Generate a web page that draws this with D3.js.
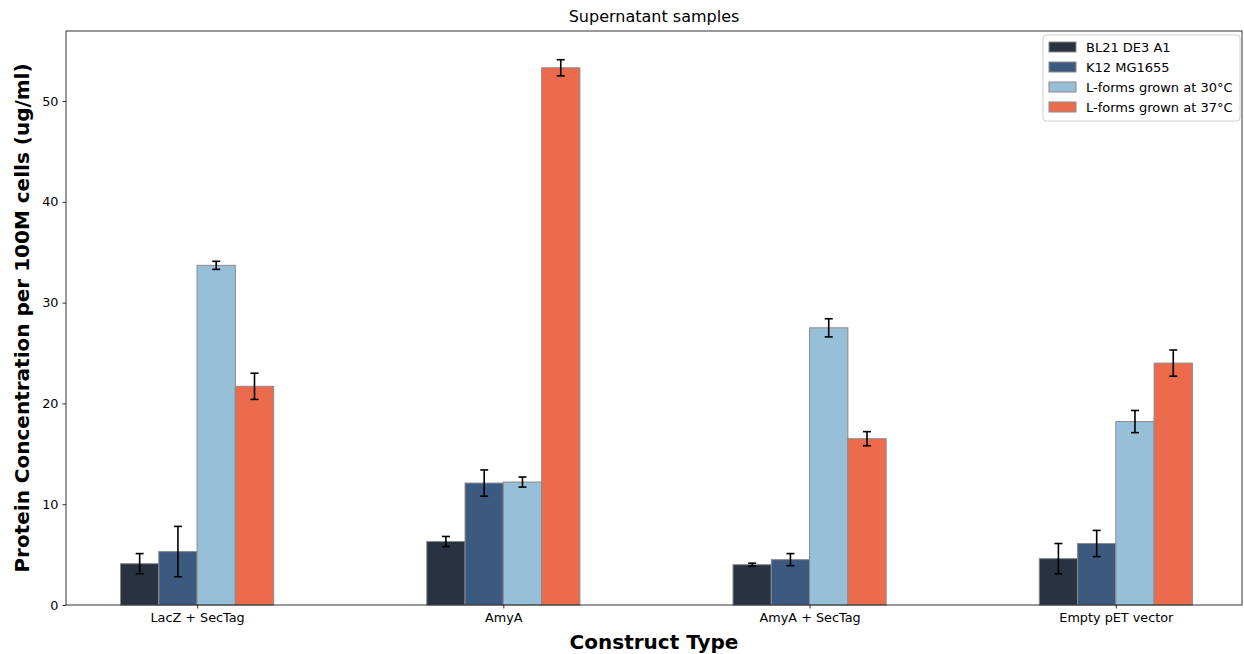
<!DOCTYPE html>
<html>
<head>
<meta charset="utf-8">
<script src="https://cdn.jsdelivr.net/npm/d3@7"></script>
<style>
  body { margin: 0; background: #fff; }
  svg { font-family: "DejaVu Sans", sans-serif; }
</style>
</head>
<body>
<div id="chart"></div>
<script>
// data
const categories = ["LacZ + SecTag", "AmyA", "AmyA + SecTag", "Empty pET vector"]
const series = ["BL21 DE3 A1", "K12 MG1655", "L-forms grown at 30°C", "L-forms grown at 37°C"]
const colors = ["#283241", "#3c5a80", "#98bfd8", "#ec6b4d"]
const bl21 = [4.1, 6.3, 4.0, 4.6]
const k12 = [5.3, 12.1, 4.5, 6.1]
const lf30 = [33.7, 12.2, 27.5, 18.2]
const lf37 = [21.7, 53.3, 16.5, 24.0]
const bl21Err = [1.0, 0.5, 0.15, 1.5]
const k12Err = [2.5, 1.3, 0.6, 1.3]
const lf30Err = [0.4, 0.5, 0.9, 1.1]
const lf37Err = [1.3, 0.8, 0.7, 1.3]
const yTicks = [0, 10, 20, 30, 40, 50]

const values = [bl21, k12, lf30, lf37]
const errors = [bl21Err, k12Err, lf30Err, lf37Err]

let width = 1244, height = 654
let margin = { left: 66, top: 31, right: 2, bottom: 49 }
let svg = d3.select("#chart").append("svg")
    .attr("width", width)
    .attr("height", height)

let x = d3.scaleLinear()
    .domain([-0.428, 3.412])
    .range([margin.left, width - margin.right])
let y = d3.scaleLinear()
    .domain([0, 56.95])
    .range([height - margin.bottom, margin.top])
let barW = 0.125

//柱子
let rows = []
series.forEach((s, j) => {
    categories.forEach((c, i) => {
        rows.push({ s: j, i: i, v: values[j][i], e: errors[j][i] })
    })
})
let bars = svg.append("g")
bars.selectAll("rect")
    .data(rows)
    .enter()
    .append("rect")
    .attr("x", d => x(d.i + (d.s - 2) * barW))
    .attr("width", d => x(barW) - x(0))
    .attr("y", d => y(d.v))
    .attr("height", d => y(0) - y(d.v))
    .attr("fill", d => colors[d.s])
    .attr("stroke", "#8a8a8a")
    .attr("stroke-width", 1)

//误差线
let errG = svg.append("g")
    .attr("stroke", "#000")
    .attr("stroke-width", 1.6)
rows.forEach(d => {
    let cx = x(d.i + (d.s - 1.5) * barW)
    errG.append("line")
        .attr("x1", cx).attr("x2", cx)
        .attr("y1", y(d.v - d.e)).attr("y2", y(d.v + d.e))
    ;[d.v - d.e, d.v + d.e].forEach(v => {
        errG.append("line")
            .attr("x1", cx - 4).attr("x2", cx + 4)
            .attr("y1", y(v)).attr("y2", y(v))
    })
})

//坐标轴
let xAxis = svg.append("g")
    .attr("transform", `translate(0,${y(0)})`)
    .call(d3.axisBottom(x).tickValues(d3.range(categories.length)).tickFormat(i => categories[i]).tickSizeOuter(0).tickSize(3.5).tickPadding(4))
let yAxis = svg.append("g")
    .attr("transform", `translate(${margin.left},0)`)
    .call(d3.axisLeft(y).tickValues(yTicks).tickSizeOuter(0).tickSize(3.5).tickPadding(4))
;[xAxis, yAxis].forEach(a => {
    a.select(".domain").remove()
    a.selectAll("text").attr("font-size", 12.8).attr("fill", "#000").attr("font-family", "DejaVu Sans")
    a.selectAll("line").attr("stroke", "#000").attr("stroke-width", 0.8)
})

//边框
svg.append("rect")
    .attr("x", margin.left)
    .attr("y", margin.top)
    .attr("width", width - margin.right - margin.left)
    .attr("height", y(0) - margin.top)
    .attr("fill", "none")
    .attr("stroke", "#000")
    .attr("stroke-width", 0.8)

//标题
svg.append("text")
    .attr("x", (margin.left + width - margin.right) / 2)
    .attr("y", 22)
    .attr("text-anchor", "middle")
    .attr("font-size", 16)
    .text("Supernatant samples")
svg.append("text")
    .attr("x", (margin.left + width - margin.right) / 2)
    .attr("y", 649)
    .attr("text-anchor", "middle")
    .attr("font-size", 20)
    .attr("font-weight", "bold")
    .text("Construct Type")
svg.append("text")
    .attr("transform", `translate(29,${(margin.top + y(0)) / 2}) rotate(-90)`)
    .attr("text-anchor", "middle")
    .attr("font-size", 20)
    .attr("font-weight", "bold")
    .text("Protein Concentration per 100M cells (ug/ml)")

//图例
let legend = svg.append("g").attr("transform", "translate(1043,35)")
legend.append("rect")
    .attr("width", 197)
    .attr("height", 86)
    .attr("rx", 3)
    .attr("fill", "#fff")
    .attr("stroke", "#d0d0d0")
series.forEach((s, j) => {
    let g = legend.append("g").attr("transform", `translate(6,${12 + j * 20})`)
    g.append("rect")
        .attr("width", 27)
        .attr("height", 10)
        .attr("y", -5)
        .attr("fill", colors[j])
        .attr("stroke", "#8a8a8a")
    g.append("text")
        .attr("x", 37)
        .attr("dy", "0.35em")
        .attr("font-size", 13)
        .text(s)
})
</script>
</body>
</html>
